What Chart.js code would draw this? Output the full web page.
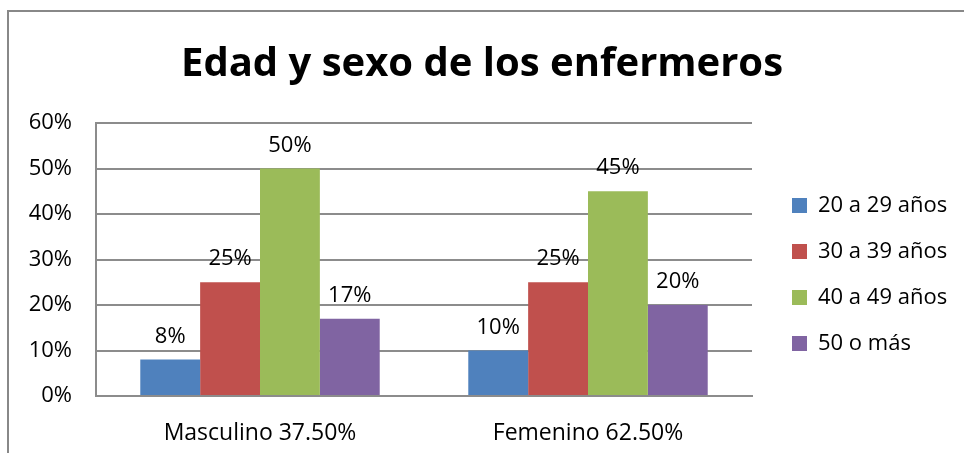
<!DOCTYPE html>
<html>
<head>
<meta charset="utf-8">
<script src="https://cdn.jsdelivr.net/npm/chart.js@4.4.1/dist/chart.umd.min.js"></script>
<style>
    body { margin: 0; background: #fff; }
    .wrap { position: relative; width: 964px; height: 453px; }
    .frame {
        position: absolute; left: 7px; top: 10px; right: 0; bottom: 0;
        border-top: 2px solid #888; border-left: 2px solid #888;
        pointer-events: none;
    }
</style>
</head>
<body>
<div class="wrap">
    <canvas id="chart_bars" width="964" height="453"></canvas>
    <div class="frame"></div>
</div>
<script>
const categories = ['Masculino 37.50%', 'Femenino 62.50%'];
const seriesNames = ['20 a 29 años', '30 a 39 años', '40 a 49 años', '50 o más'];
const age20to29 = [8, 10];
const age30to39 = [25, 25];
const age40to49 = [50, 45];
const age50plus = [17, 20];
const yTicks = [0, 10, 20, 30, 40, 50, 60];

const colors = ['#4F81BD', '#C0504D', '#9BBB59', '#8064A2'];
const gridColor = '#8c8c8c';
const font = '"Open Sans"';

// value labels above each bar
const barLabels = {
    id: 'barLabels',
    afterDatasetsDraw(chart) {
        const ctx = chart.ctx;
        ctx.save();
        ctx.font = '22px ' + font;
        ctx.fillStyle = '#000';
        ctx.textAlign = 'center';
        ctx.textBaseline = 'alphabetic';
        chart.data.datasets.forEach((ds, i) => {
            chart.getDatasetMeta(i).data.forEach((bar, j) => {
                ctx.fillText(ds.data[j] + '%', bar.x, bar.y - 17);
            });
        });
        ctx.restore();
    }
};

// legend sits a bit right of the plot, like the Excel original
const legendPlace = {
    id: 'legendPlace',
    afterInit(chart) {
        const lg = chart.legend;
        const fit = lg.fit.bind(lg);
        lg.fit = function () {
            fit();
            this.width = 212;
        };
    },
    afterLayout(chart) {
        const lg = chart.legend;
        lg.left += 16; lg.right += 16;
        lg.top += 15; lg.bottom += 15;
    }
};

const chartBars = document.querySelector('#chart_bars');

new Chart(chartBars, {
    type: 'bar',
    data: {
        labels: categories,
        datasets: [
            { label: seriesNames[0], data: age20to29, backgroundColor: colors[0] },
            { label: seriesNames[1], data: age30to39, backgroundColor: colors[1] },
            { label: seriesNames[2], data: age40to49, backgroundColor: colors[2] },
            { label: seriesNames[3], data: age50plus, backgroundColor: colors[3] }
        ]
    },
    plugins: [barLabels, legendPlace],
    options: {
        responsive: false,
        animation: false,
        categoryPercentage: 0.73,
        barPercentage: 1,
        layout: { padding: 0 },
        plugins: {
            title: {
                display: true,
                text: 'Edad y sexo de los enfermeros',
                color: '#000',
                font: { family: font, size: 40, weight: 'bold', lineHeight: 1.2 },
                padding: { top: 41, bottom: 34 }
            },
            legend: {
                position: 'right',
                fullSize: false,
                labels: {
                    color: '#000',
                    font: { family: font, size: 22 },
                    boxWidth: 15,
                    boxHeight: 15,
                    padding: 24
                }
            },
            tooltip: { enabled: false }
        },
        scales: {
            x: {
                grid: { display: false },
                border: { display: true, color: gridColor, width: 2 },
                ticks: { color: '#000', font: { family: font, size: 23 }, padding: 16 },
                afterFit(scale) { scale.height = 57; }
            },
            y: {
                min: yTicks[0],
                max: yTicks[yTicks.length - 1],
                afterBuildTicks(scale) { scale.ticks = yTicks.map(v => ({ value: v })); },
                grid: { color: gridColor, lineWidth: 2, drawTicks: false },
                border: { display: true, color: gridColor, width: 2 },
                ticks: {
                    color: '#000',
                    font: { family: font, size: 22 },
                    padding: 24,
                    callback: v => v + '%'
                },
                afterFit(scale) { scale.width = 96; }
            }
        }
    }
});
</script>
</body>
</html>
